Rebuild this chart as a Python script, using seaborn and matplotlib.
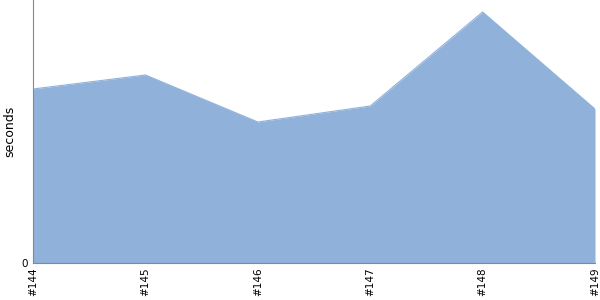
import matplotlib
matplotlib.use("Agg")
import matplotlib.pyplot as plt
import seaborn as sns
import pandas as pd

builds = ["#144", "#145", "#146", "#147", "#148", "#149"]
seconds = [174, 188, 141, 157, 251, 154]

sns.set_style("white")
plt.rcParams['font.family'] = ['DejaVu Sans']

df = pd.DataFrame({"build": builds, "seconds": seconds})
df["pos"] = range(len(builds))

fig = plt.figure(figsize=(6, 3), dpi=100)
ax = fig.add_axes([33/600, 1-263/300, 562/600, 263/300])
color = "#8fb1da"
sns.lineplot(data=df, x="pos", y="seconds", ax=ax, color=color, linewidth=0.8)
ax.fill_between(df["pos"], 0, df["seconds"], color=color, linewidth=0)

ax.set_xlim(0, len(builds) - 1)
ax.set_ylim(0, 263)
ax.set_xticks(df["pos"])
ax.set_xticklabels(builds, rotation=90, fontsize=7.5, color="black")
ax.set_yticks([0])
ax.set_yticklabels(["0"], fontsize=7.5, color="black")
ax.set_xlabel("")
ax.set_ylabel("seconds", fontsize=9, color="black", labelpad=3)
ax.tick_params(axis="x", length=0, pad=3)
ax.tick_params(axis="y", length=3, width=0.8, color="#888888", pad=1)
for s in ["top", "right"]:
    ax.spines[s].set_visible(False)
ax.spines["left"].set_color("#888888")
ax.spines["left"].set_linewidth(0.8)
ax.spines["bottom"].set_color("#888888")
ax.spines["bottom"].set_linewidth(0.8)

fig.savefig("out.png", dpi=100)
